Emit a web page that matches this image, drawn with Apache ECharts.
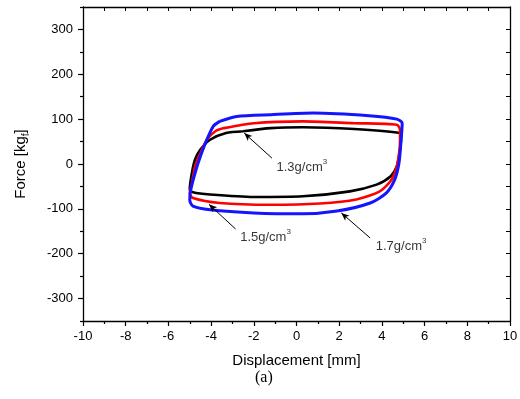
<!DOCTYPE html>
<html>
<head>
<meta charset="utf-8">
<script src="https://cdn.jsdelivr.net/npm/echarts@6/dist/echarts.min.js"></script>
<style>
html, body { margin: 0; padding: 0; background: #fff; }
#Chart { width: 520px; height: 399px; }
</style>
</head>
<body>
<div id="Chart"></div>
<script>
var Chart = echarts.init(document.getElementById('Chart'));

// hysteresis loops, [displacement mm, force kgf]
var loop13 = [[-2.5, 73], [-1.2, 80], [0.3, 82], [2.7, 78], [4.85, 69], [4.9, 61], [4.85, 32], [4.7, -5],
    [4.4, -28], [3.75, -46], [2.5, -61], [0.3, -72], [-2.0, -73.5], [-4.05, -68], [-4.85, -63], [-5.0, -57],
    [-4.9, -20], [-4.75, 10], [-4.5, 32], [-4.05, 54], [-3.3, 69], [-2.5, 73]];
var loop15 = [[-3.4, 80], [-2.0, 91], [0.3, 95], [2.7, 91], [4.7, 87.5], [4.85, 76], [4.85, 54], [4.7, -5],
    [4.45, -35], [3.9, -61], [2.8, -79], [1.1, -88], [-1.2, -91], [-3.6, -87], [-4.85, -76], [-5.0, -65],
    [-4.9, -42], [-4.75, -5], [-4.5, 24], [-4.2, 54], [-3.8, 73], [-3.4, 80]];
var loop17 = [[-3.6, 95], [-2.8, 106], [-1.2, 110], [0.8, 113.5], [3.4, 107.5], [4.7, 100], [4.95, 91],
    [4.9, 54], [4.8, 2], [4.6, -35], [4.2, -65], [3.45, -87], [1.9, -105], [0.3, -111], [-2.0, -109],
    [-4.05, -102], [-4.85, -94], [-5.0, -80], [-4.95, -57], [-4.75, -20], [-4.5, 17], [-4.2, 54],
    [-3.9, 84], [-3.6, 95]];

var densityNames = ['1.3g/cm', '1.5g/cm', '1.7g/cm'];
var labelAt = [[0.25, -7], [-1.45, -163], [4.9, -183]];
var arrowTail = [[-1.15, 13], [-2.85, -145], [3.45, -165]];
var arrowHead = [[-2.45, 69], [-4.1, -90], [2.1, -109]];

var xTicks = [-10, 10, 2];
var yLabels = [-300, -200, -100, 0, 100, 200, 300];
var yMinor = [-350, -250, -150, -50, 50, 150, 250, 350];

var fontName = 'Liberation Sans';
var axisLineStyle = { onZero: false, lineStyle: { color: '#000', width: 1.3 } };

function loopSeries(data, color, width) {
    return {
        type: 'line',
        data: data,
        showSymbol: false,
        smooth: 0.25,
        lineStyle: { color: color, width: width },
        silent: true
    };
}

var arrowData = [];
for (var i = 0; i < arrowTail.length; i++) {
    arrowData.push([{ coord: arrowTail[i] }, { coord: arrowHead[i] }]);
}
var textData = [];
for (var j = 0; j < labelAt.length; j++) {
    textData.push({ value: labelAt[j], name: densityNames[j] });
}

var option = {
    animation: false,
    grid: { left: 83, right: 10, top: 7, bottom: 78, outerBoundsMode: 'none' },
    xAxis: [{
        type: 'value', min: xTicks[0], max: xTicks[1], interval: xTicks[2],
        position: 'bottom',
        axisLine: axisLineStyle,
        axisTick: { length: 5, lineStyle: { color: '#000', width: 1.2 } },
        minorTick: { show: true, splitNumber: 2, length: 3, lineStyle: { color: '#000', width: 1.2 } },
        splitLine: { show: false },
        axisLabel: { color: '#000', fontSize: 13, fontFamily: fontName, margin: 9 },
        name: 'Displacement [mm]', nameLocation: 'middle', nameGap: 32,
        nameTextStyle: { color: '#000', fontSize: 15, fontFamily: fontName }
    }, {
        type: 'value', min: xTicks[0], max: xTicks[1], interval: 1,
        position: 'top',
        axisLine: axisLineStyle,
        axisTick: { inside: true, length: 4, lineStyle: { color: '#000', width: 1 } },
        splitLine: { show: false },
        axisLabel: { show: false }
    }],
    yAxis: [{
        type: 'value', min: -350, max: 350,
        position: 'left',
        axisLine: { show: true, onZero: false, lineStyle: { color: '#000', width: 1.3 } },
        axisTick: { show: true, length: 5, customValues: yLabels, lineStyle: { color: '#000', width: 1.2 } },
        splitLine: { show: false },
        axisLabel: { color: '#000', fontSize: 13, fontFamily: fontName, margin: 10, customValues: yLabels },
        name: 'Force [kg{sub|f}]', nameLocation: 'middle', nameGap: 52,
        nameTextStyle: {
            color: '#000', fontSize: 15, fontFamily: fontName, lineHeight: 20,
            rich: { sub: { fontSize: 10, fontFamily: fontName, color: '#000', verticalAlign: 'bottom', lineHeight: 20 } }
        }
    }, {
        type: 'value', min: -350, max: 350,
        position: 'left',
        axisLine: { show: false, onZero: false },
        axisTick: { show: true, length: 3, customValues: yMinor, lineStyle: { color: '#000', width: 1.2 } },
        splitLine: { show: false },
        axisLabel: { show: false }
    }, {
        type: 'value', min: -350, max: 350, interval: 50,
        position: 'right',
        axisLine: { show: true, onZero: false, lineStyle: { color: '#000', width: 1.3 } },
        axisTick: { show: true, inside: true, length: 4, lineStyle: { color: '#000', width: 1 } },
        splitLine: { show: false },
        axisLabel: { show: false }
    }],
    graphic: [{
        type: 'text',
        left: 255, top: 370,
        style: { text: '(a)', font: '16px "Liberation Serif"', fill: '#000' }
    }],
    series: [
        loopSeries(loop13, '#000000', 2.6),
        loopSeries(loop15, '#ff0000', 2.6),
        loopSeries(loop17, '#1414ff', 3),
        {
            type: 'scatter',
            data: textData,
            symbolSize: 0,
            silent: true,
            label: {
                show: true,
                position: 'inside',
                formatter: function (p) { return p.name + '{sup|3}'; },
                color: '#000', fontSize: 13, fontFamily: fontName, lineHeight: 18,
                rich: { sup: { fontSize: 8, fontFamily: fontName, color: '#000', verticalAlign: 'top', lineHeight: 18 } }
            },
            markLine: {
                silent: true,
                symbol: ['none', 'arrow'],
                symbolSize: [5, 8],
                label: { show: false },
                lineStyle: { color: '#000', width: 1, type: 'solid' },
                data: arrowData
            }
        }
    ]
};

Chart.setOption(option);
</script>
</body>
</html>
